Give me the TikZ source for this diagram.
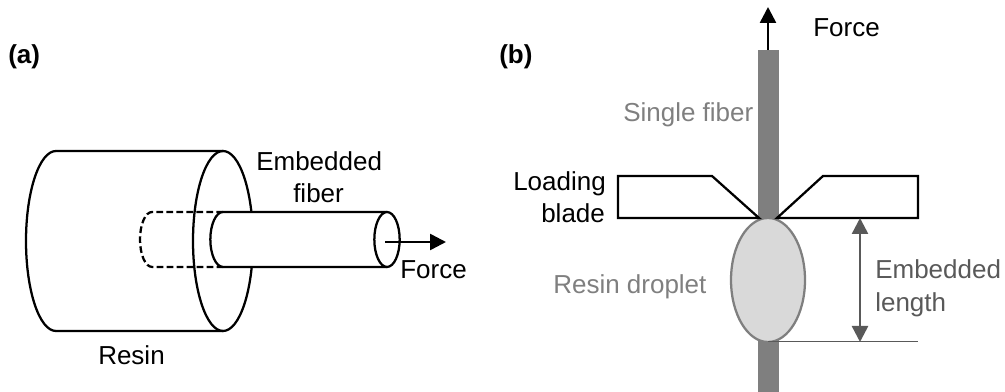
\documentclass[tikz,border=0pt]{standalone}
\usepackage{fontspec}
\setmainfont{Liberation Sans}
\usetikzlibrary{arrows.meta,shapes.geometric}
\definecolor{fibergray}{HTML}{7F7F7F}
\definecolor{dropfill}{HTML}{D9D9D9}
\definecolor{dimgray}{HTML}{595959}
\tikzset{
  x=.75pt,y=.75pt,
  lab/.style={anchor=base west,inner sep=0pt,font=\fontsize{19.5}{23}\selectfont},
  boldlab/.style={lab,font=\fontsize{19.5}{23}\selectfont\bfseries},
  graylab/.style={lab,text=fibergray},
  dimlab/.style={lab,text=dimgray},
  outline/.style={draw=black,line width=1.7pt},
  forcearrow/.style={draw=black,line width=1.9pt,-{Triangle[length=12pt,width=12pt]}},
  dimarrow/.style={draw=dimgray,line width=1.9pt,{Triangle[length=12pt,width=12pt]}-{Triangle[length=12pt,width=12pt]}}
}
\begin{document}
\begin{tikzpicture}
\useasboundingbox (0,0) rectangle (1005,392);
% (a)
\node[boldlab] (la) at (8,328) {(a)};
\draw[outline] (223,241) -- (56,241) arc[start angle=90,end angle=270,x radius=22.5pt,y radius=67.5pt] -- (223,61);
\draw[outline] (223,151) ellipse[x radius=22.5pt,y radius=67.5pt];
\draw[outline,dash pattern=on 5pt off 2.5pt] (223,180) -- (152,180) arc[start angle=90,end angle=270,x radius=9pt,y radius=20.6pt] -- (223,125);
\draw[outline,fill=white] (387,180) -- (223,180) arc[start angle=90,end angle=270,x radius=9.5pt,y radius=20.6pt] -- (387,125);
\draw[outline,fill=white] (387,152.5) ellipse[x radius=9.5pt,y radius=20.6pt];
\coordinate (fa1) at (385,150);
\coordinate (fa2) at (446,150);
\draw[forcearrow] (fa1) -- (fa2);
\node[lab] (emb) at (256,221) {Embedded};
\node[lab] (fib) at (293,189) {fiber};
\node[lab] (fa) at (400,113) {Force};
\node[lab] (res) at (98,27) {Resin};
% (b)
\node[boldlab] (lb) at (499,328) {(b)};
\fill[fibergray] (758,0) rectangle (779,342);
\node[draw=fibergray,fill=dropfill,line width=1.7pt,ellipse,minimum width=55.5pt,minimum height=93pt,inner sep=0pt] (drop) at (768,112) {};
\draw[outline,fill=white] (618,216) -- (712,216) -- (759,174) -- (618,174) -- cycle;
\draw[outline,fill=white] (918,216) -- (823,216) -- (777,174) -- (918,174) -- cycle;
\coordinate (fb1) at (768,342);
\coordinate (fb2) at (768,385);
\draw[forcearrow] (fb1) -- (fb2);
\coordinate (d1) at (860,174);
\coordinate (d2) at (860,50);
\coordinate (t1) at (768,50);
\coordinate (t2) at (918,50);
\draw[dimgray,line width=.75pt] (t1) -- (t2);
\draw[dimarrow] (d1) -- (d2);
\node[lab] (fb) at (813,355) {Force};
\node[graylab] (sf) at (623,270) {Single fiber};
\node[lab] (lo) at (513,201) {Loading};
\node[lab] (bl) at (541,169) {blade};
\node[graylab] (rd) at (553,98) {Resin droplet};
\node[dimlab] (el) at (875,113) {Embedded};
\node[dimlab] (len) at (875,80) {length};
\end{tikzpicture}
\end{document}
